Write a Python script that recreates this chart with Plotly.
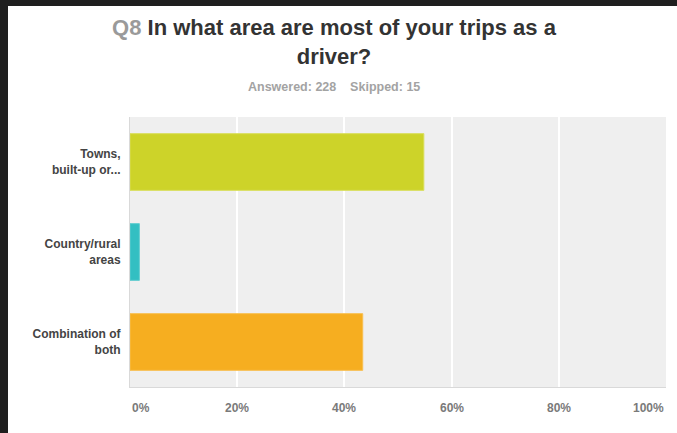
import plotly.graph_objects as go

# Survey question Q8: share of respondents by main driving area
categories = ["Towns,<br>built-up or...", "Country/rural<br>areas", "Combination of<br>both"]
shares = [54.82, 1.75, 43.42]
bar_colors = ["#CDD329", "#33BFC2", "#F6AE20"]
edge_colors = ["#D9DE5A", "#62CDD0", "#F8BF50"]
tick_values = [0, 20, 40, 60, 80, 100]
tick_labels = ["0%", "20%", "40%", "60%", "80%", "100%"]
answered = 228
skipped = 15

W, H = 677, 433
L, R, T, B = 130, 11, 117, 46
pw, ph = W - L - R, H - T - B

def px_x(px):
    return (px - L) / pw

def px_y(py):
    return (H - B - py) / ph

fig = go.Figure()
fig.add_trace(go.Bar(
    y=categories, x=shares, orientation="h",
    marker=dict(color=bar_colors, line=dict(color=edge_colors, width=1)),
    width=0.63, hoverinfo="skip",
))

# dark backdrop strips along the top and left of the white card
dark = "#1f1f1f"
fig.add_shape(type="rect", xref="paper", yref="paper",
              x0=px_x(-5), x1=px_x(W + 5), y0=px_y(6), y1=px_y(-5),
              fillcolor=dark, line=dict(width=0), layer="below")
fig.add_shape(type="rect", xref="paper", yref="paper",
              x0=px_x(-5), x1=px_x(8), y0=px_y(H + 5), y1=px_y(-5),
              fillcolor=dark, line=dict(width=0), layer="below")

annotations = []
for v, lab in zip(tick_values, tick_labels):
    anchor = "left" if v == tick_values[0] else ("right" if v == tick_values[-1] else "center")
    annotations.append(dict(x=v, y=px_y(408), xref="x", yref="paper", text=f"<b>{lab}</b>",
                            showarrow=False, xanchor=anchor, yanchor="middle",
                            font=dict(family="Liberation Sans", size=12, color="#7a7a7a")))
annotations.append(dict(x=px_x(334), y=px_y(87), xref="paper", yref="paper",
                        text=f"<b>Answered: {answered}    Skipped: {skipped}</b>",
                        showarrow=False, xanchor="center", yanchor="middle",
                        font=dict(family="Liberation Sans", size=12.5, color="#a3a3a3")))

fig.update_layout(
    width=W, height=H,
    margin=dict(l=L, r=R, t=T, b=B, pad=0),
    paper_bgcolor="#FFFFFF",
    plot_bgcolor="#EFEFEF",
    showlegend=False,
    bargap=0.37,
    title=dict(
        text="<b><span style='color:#9a9a9a'>Q8</span> In what area are most of your trips as a<br>driver?</b>",
        x=334 / W, xanchor="center", xref="container",
        y=1 - 35 / H, yanchor="middle", yref="container",
        font=dict(family="Liberation Sans", size=22, color="#333333"),
    ),
    xaxis=dict(range=[0, 100], tickvals=tick_values, showticklabels=False,
               showgrid=True, gridcolor="#FFFFFF", gridwidth=2, zeroline=False,
               showline=True, linecolor="#D9D9D9", linewidth=1, mirror=False,
               fixedrange=True),
    yaxis=dict(autorange="reversed", showgrid=False, zeroline=False,
               showline=True, linecolor="#D9D9D9", linewidth=1,
               ticks="", ticklabelstandoff=6,
               tickfont=dict(family="Liberation Sans", size=12, color="#444444"),
               fixedrange=True),
    annotations=annotations,
)
# bold category labels
fig.update_yaxes(ticktext=[f"<b>{c}</b>" for c in categories], tickvals=categories)

fig.write_html("out.html")
